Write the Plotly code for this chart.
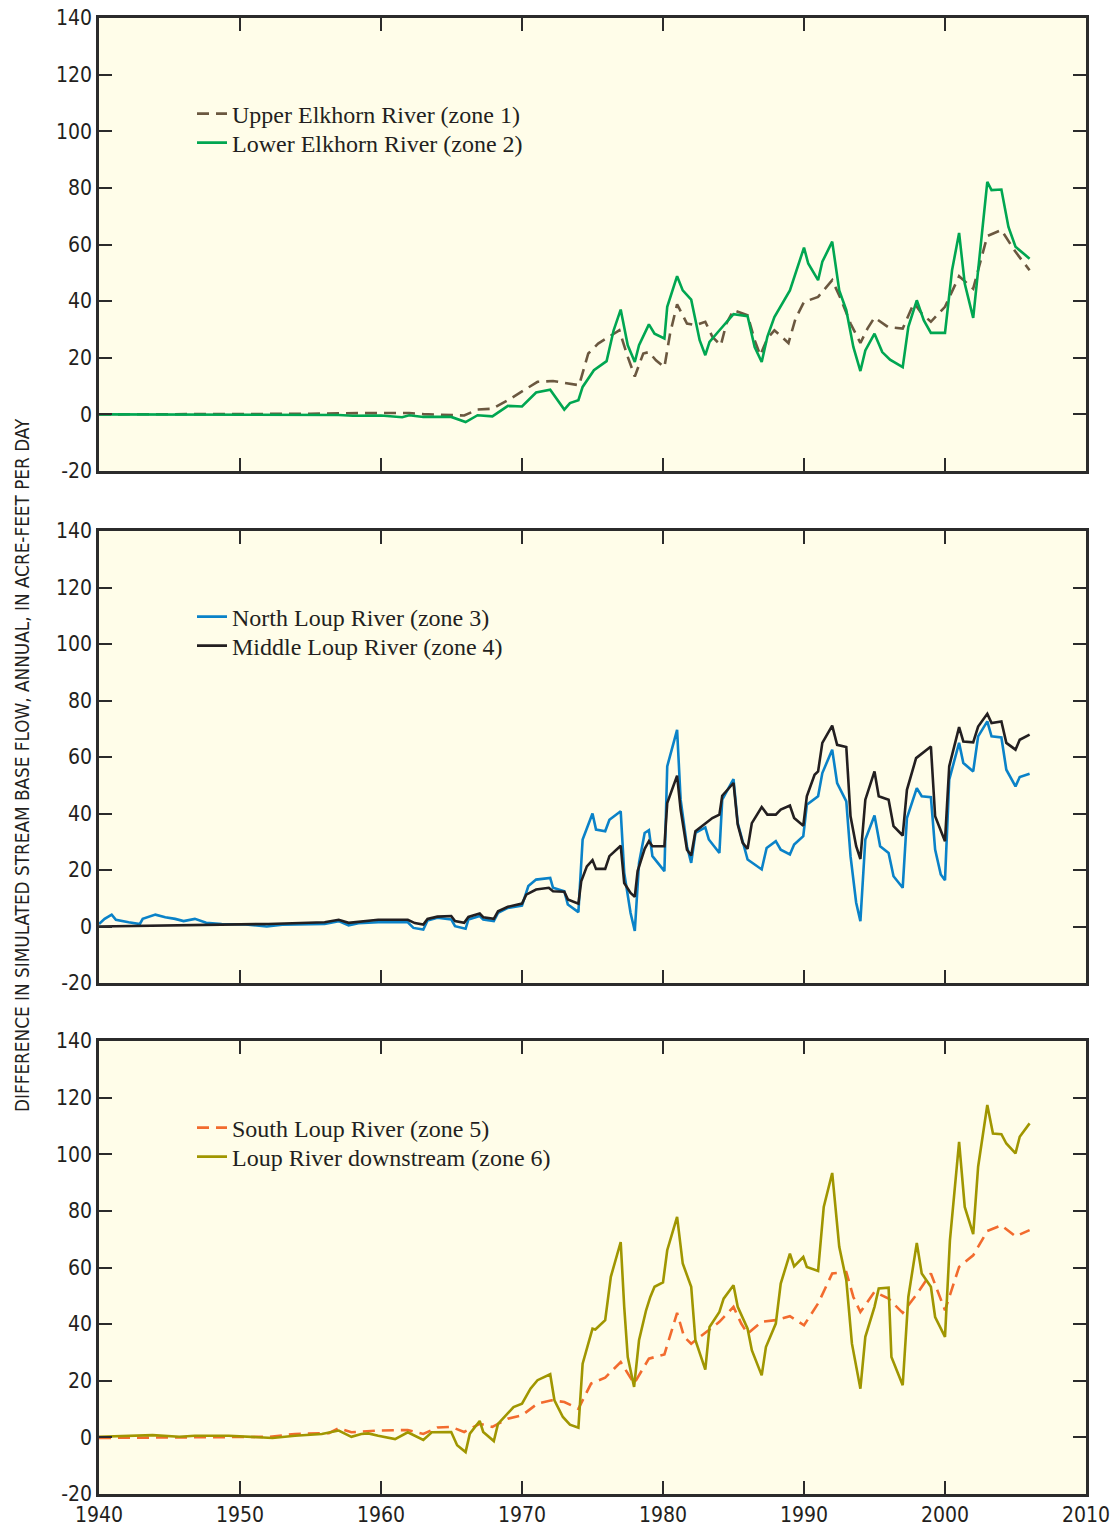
import plotly.graph_objects as go

# ---------------- DATA ----------------
# Panel 1
upper_elkhorn_year = [1940, 1945, 1950, 1955, 1957, 1960, 1962, 1963, 1964.2, 1965.9, 1966.85, 1967.9,
                      1969.0, 1970.2, 1971.1, 1972.2, 1974.05, 1974.7, 1975.4, 1976.9, 1977.5, 1978.0,
                      1978.6, 1979.0, 1979.5, 1980.1, 1980.5, 1981.0, 1981.7, 1982.3, 1983.0, 1983.5,
                      1984.1, 1984.5, 1985.0, 1986.0, 1986.5, 1986.9, 1987.4, 1987.9, 1988.9, 1989.4,
                      1990.0, 1991.0, 1992.0, 1992.6, 1993.3, 1994.0, 1994.5, 1995.0, 1995.95, 1997.0,
                      1997.8, 1998.35, 1999.0, 2000.0, 2001.0, 2002.0, 2003.0, 2004.0, 2005.0, 2006.0]
upper_elkhorn_flow = [0, 0, 0, 0.2, 0.4, 0.5, 0.5, 0.1, 0.0, -0.4, 1.7, 2.0,
                      5.0, 8.7, 11.5, 11.8, 10.3, 21.5, 25.0, 29.7, 20.3, 13.4,
                      21.5, 22.0, 19.1, 16.7, 28.5, 38.9, 32.1, 31.5, 32.7, 27.4,
                      24.4, 32.1, 36.8, 35.0, 26.2, 20.9, 26.8, 29.7, 25.2, 33.8,
                      39.7, 41.5, 47.4, 40.9, 32.1, 25.2, 30.3, 34.2, 30.9, 30.3,
                      39.4, 35.6, 32.7, 38.0, 48.8, 44.4, 63.0, 65.1, 57.4, 50.9]

lower_elkhorn_year = [1940, 1950, 1955, 1957, 1958, 1960, 1961.5, 1962, 1963, 1964.18, 1964.98, 1966.0,
                      1966.85, 1967.9, 1969.0, 1970.0, 1971.0, 1972.0, 1973.0, 1973.4, 1974.0, 1974.3,
                      1975.1, 1976.0, 1976.5, 1977.0, 1977.5, 1978.0, 1978.3, 1979.0, 1979.4, 1980.1,
                      1980.3, 1981.0, 1981.4, 1982.0, 1982.6, 1983.0, 1983.3, 1983.9, 1985.0, 1986.0,
                      1986.5, 1987.0, 1987.4, 1987.9, 1989.0, 1990.0, 1990.3, 1991.0, 1991.3, 1992.0,
                      1992.5, 1993.0, 1993.5, 1994.0, 1994.35, 1995.0, 1995.55, 1996.1, 1997.0, 1997.4,
                      1998.0, 1998.5, 1999.0, 2000.0, 2000.5, 2001.0, 2001.4, 2002.0, 2002.35, 2003.0,
                      2003.3, 2004.0, 2004.5, 2005.0, 2006.0]
lower_elkhorn_flow = [0, 0, 0, -0.2, -0.5, -0.4, -1.0, -0.3, -0.9, -0.9, -0.9, -2.7,
                      -0.3, -0.7, 3.0, 2.8, 7.7, 8.7, 1.7, 4.0, 5.0, 9.7,
                      15.6, 18.8, 29.7, 37.0, 24.4, 18.5, 24.4, 31.8, 28.5, 26.8,
                      38.0, 48.8, 43.8, 40.5, 26.2, 20.9, 25.6, 29.1, 35.4, 34.7,
                      23.8, 18.5, 27.4, 34.4, 43.8, 58.9, 53.3, 47.4, 53.9, 61.0,
                      43.8, 36.8, 23.8, 15.3, 22.6, 28.5, 22.0, 19.3, 16.7, 30.9,
                      40.3, 33.2, 28.8, 28.8, 50.9, 64.1, 46.2, 34.1, 50.9, 82.1,
                      79.2, 79.4, 66.2, 59.2, 55.0]

# Panel 2
north_loup_year = [1940, 1940.4, 1940.9, 1941.2, 1942.1, 1942.9, 1943.1, 1944.0, 1944.7, 1945.4, 1946.0,
                   1946.8, 1947.6, 1948.7, 1950.4, 1951.9, 1953.0, 1956.0, 1957.0, 1957.7, 1958.4,
                   1959.8, 1961.9, 1962.3, 1963.0, 1963.3, 1964.0, 1964.98, 1965.25, 1966.0, 1966.2,
                   1967.0, 1967.25, 1968.0, 1968.3, 1969.0, 1970.0, 1970.45, 1971.0, 1972.0, 1972.2,
                   1973.0, 1973.25, 1974.0, 1974.3, 1975.0, 1975.25, 1975.9, 1976.2, 1977.0, 1977.25,
                   1977.7, 1978.0, 1978.3, 1978.7, 1979.0, 1979.25, 1980.1, 1980.3, 1981.0, 1981.25,
                   1981.7, 1982.0, 1982.3, 1983.0, 1983.25, 1984.0, 1984.2, 1985.0, 1985.3, 1986.0,
                   1987.0, 1987.35, 1988.0, 1988.35, 1989.0, 1989.3, 1989.95, 1990.2, 1991.0, 1991.3,
                   1992.0, 1992.35, 1993.0, 1993.3, 1993.7, 1994.0, 1994.35, 1995.0, 1995.4, 1996.0,
                   1996.35, 1997.0, 1997.3, 1998.0, 1998.35, 1999.0, 1999.3, 1999.7, 2000.0, 2000.3,
                   2001.0, 2001.3, 2002.0, 2002.35, 2003.0, 2003.3, 2004.0, 2004.35, 2005.0, 2005.3,
                   2006.0]
north_loup_flow = [0.9, 2.7, 4.2, 2.4, 1.5, 0.9, 2.7, 4.2, 3.3, 2.7, 1.9,
                   2.7, 1.3, 0.9, 0.7, 0.0, 0.6, 0.9, 1.9, 0.4, 1.2,
                   1.5, 1.5, -0.5, -1.1, 2.1, 3.1, 2.5, 0.1, -0.8, 2.5,
                   3.7, 2.5, 1.9, 4.8, 6.6, 7.4, 14.3, 16.6, 17.2, 13.7,
                   12.5, 7.8, 5.1, 30.8, 40.0, 34.3, 33.7, 37.8, 40.8, 19.0,
                   4.8, -1.6, 22.5, 33.1, 34.1, 24.9, 19.6, 56.7, 69.6, 44.9,
                   28.4, 22.5, 33.1, 35.1, 30.8, 26.0, 44.9, 52.2, 36.6, 23.7,
                   20.2, 27.8, 30.2, 27.2, 25.5, 29.0, 32.0, 43.1, 46.1, 54.3,
                   62.6, 50.8, 44.3, 24.9, 8.4, 1.9, 30.8, 39.3, 28.4, 26.0,
                   17.8, 13.7, 38.4, 49.0, 46.1, 45.8, 27.2, 18.4, 16.4, 52.0,
                   65.0, 57.9, 54.9, 67.3, 72.6, 67.3, 66.9, 55.5, 49.6, 52.9,
                   54.1]

middle_loup_year = [1940, 1952.0, 1956.0, 1957.0, 1957.7, 1958.4, 1959.8, 1961.9, 1962.4, 1963.0, 1963.3,
                    1964.0, 1964.98, 1965.25, 1965.9, 1966.2, 1967.0, 1967.25, 1968.0, 1968.3, 1969.0,
                    1970.0, 1970.3, 1971.0, 1971.9, 1972.2, 1973.0, 1973.25, 1974.0, 1974.2, 1974.6,
                    1975.0, 1975.25, 1975.9, 1976.2, 1977.0, 1977.25, 1977.7, 1978.0, 1978.2, 1978.7,
                    1979.0, 1979.25, 1980.1, 1980.3, 1981.0, 1981.25, 1981.7, 1982.0, 1982.3, 1983.0,
                    1983.5, 1984.0, 1984.2, 1985.0, 1985.3, 1985.65, 1986.0, 1986.3, 1987.0, 1987.4,
                    1988.0, 1988.35, 1989.0, 1989.3, 1989.95, 1990.2, 1990.75, 1991.0, 1991.3, 1992.0,
                    1992.35, 1993.0, 1993.3, 1993.7, 1994.0, 1994.35, 1995.0, 1995.3, 1996.0, 1996.35,
                    1997.0, 1997.3, 1997.95, 1999.0, 1999.3, 2000.0, 2000.3, 2001.0, 2001.3, 2002.0,
                    2002.35, 2003.0, 2003.3, 2004.0, 2004.35, 2005.0, 2005.3, 2006.0]
middle_loup_flow = [0.0, 0.9, 1.5, 2.4, 1.3, 1.6, 2.4, 2.4, 1.2, 0.7, 2.7,
                    3.5, 3.7, 1.9, 1.3, 3.4, 4.6, 3.3, 2.7, 5.4, 7.0,
                    8.1, 11.3, 13.1, 13.7, 12.5, 12.3, 9.6, 8.1, 16.0, 21.3,
                    23.5, 20.4, 20.4, 24.9, 28.6, 15.4, 11.9, 10.5, 19.6, 27.5,
                    30.2, 28.4, 28.4, 43.7, 53.4, 41.4, 27.2, 25.1, 33.7, 36.6,
                    38.4, 39.6, 46.3, 50.8, 36.1, 29.6, 27.5, 36.6, 42.3, 39.6,
                    39.6, 41.4, 42.8, 38.4, 35.7, 46.1, 53.7, 54.9, 65.0, 71.1,
                    64.3, 63.5, 39.0, 28.4, 23.9, 44.9, 54.9, 46.1, 44.9, 35.5,
                    32.2, 48.4, 59.6, 63.7, 39.0, 30.2, 56.7, 70.6, 65.5, 65.2,
                    70.8, 75.3, 72.0, 72.6, 65.0, 62.6, 66.1, 67.9]

# Panel 3
south_loup_year = [1940, 1949.2, 1952.1, 1953.9, 1956.3, 1957.0, 1957.9, 1959.8, 1961.9, 1963.0, 1964.0,
                   1964.98, 1965.9, 1967.0, 1967.9, 1969.0, 1970.0, 1971.1, 1972.1, 1973.0, 1974.0,
                   1974.9, 1975.9, 1977.0, 1977.95, 1979.0, 1980.1, 1981.0, 1981.5, 1982.0, 1983.0,
                   1984.0, 1985.0, 1985.55, 1986.0, 1987.0, 1988.0, 1989.0, 1990.0, 1991.0, 1992.0,
                   1993.0, 1993.5, 1994.0, 1995.0, 1996.0, 1997.0, 1998.0, 1999.0, 2000.0, 2001.0,
                   2002.0, 2003.0, 2004.0, 2005.0, 2006.0]
south_loup_flow = [-0.2, 0.0, 0.2, 1.2, 1.5, 3.3, 1.8, 2.4, 2.6, 1.2, 3.5,
                   3.7, 1.9, 4.8, 3.7, 6.6, 7.8, 11.9, 13.1, 12.5, 10.1,
                   19.0, 21.1, 26.6, 19.0, 27.8, 29.3, 44.0, 35.5, 33.1, 36.9,
                   40.8, 46.1, 40.2, 36.6, 40.8, 41.4, 42.8, 39.6, 47.3, 57.9,
                   58.4, 49.6, 44.3, 51.4, 49.0, 44.0, 50.6, 57.9, 44.9, 60.2,
                   64.3, 72.9, 74.9, 71.0, 73.2]

loup_downstream_year = [1940, 1943.8, 1945.7, 1946.8, 1949.2, 1952.3, 1953.9, 1955.8, 1957.0, 1957.9, 1958.6,
                        1959.1, 1959.8, 1961.0, 1961.9, 1962.4, 1963.0, 1963.6, 1964.0, 1964.98, 1965.4,
                        1966.0, 1966.3, 1967.0, 1967.25, 1968.0, 1968.3, 1969.0, 1969.4, 1970.0, 1970.6,
                        1971.1, 1972.0, 1972.3, 1972.9, 1973.4, 1974.0, 1974.3, 1975.0, 1975.2, 1975.9,
                        1976.3, 1977.0, 1977.25, 1977.5, 1977.95, 1978.3, 1978.8, 1979.1, 1979.4, 1980.0,
                        1980.3, 1981.0, 1981.4, 1982.0, 1982.3, 1983.0, 1983.3, 1984.0, 1984.3, 1985.0,
                        1985.3, 1986.0, 1986.3, 1987.0, 1987.3, 1988.0, 1988.35, 1989.0, 1989.3, 1989.95,
                        1990.2, 1991.0, 1991.4, 1992.0, 1992.5, 1993.0, 1993.4, 1994.0, 1994.35, 1995.0,
                        1995.3, 1996.0, 1996.2, 1997.0, 1997.4, 1998.0, 1998.35, 1999.0, 1999.3, 2000.0,
                        2000.35, 2001.0, 2001.4, 2002.0, 2002.35, 2003.0, 2003.4, 2004.0, 2004.35, 2005.0,
                        2005.3, 2006.0]
loup_downstream_flow = [0.2, 0.8, 0.2, 0.6, 0.6, -0.2, 0.6, 1.2, 2.4, 0.2, 1.2,
                        1.4, 0.6, -0.6, 1.8, 0.6, -0.9, 1.8, 1.8, 1.9, -2.8,
                        -5.2, 1.3, 5.8, 1.9, -1.3, 4.8, 8.4, 10.7, 11.9, 17.2,
                        20.2, 22.3, 13.1, 7.2, 4.5, 3.4, 26.0, 38.4, 38.1, 41.4,
                        56.7, 69.0, 46.1, 28.4, 17.8, 34.3, 44.9, 49.6, 53.2, 54.7,
                        66.1, 77.9, 61.4, 53.2, 34.3, 23.9, 39.0, 44.3, 49.0, 53.7,
                        46.1, 38.4, 30.8, 21.9, 31.9, 40.2, 54.3, 64.9, 60.4, 63.7,
                        60.2, 58.8, 81.4, 93.4, 67.3, 55.5, 33.1, 17.2, 35.5, 46.1,
                        52.6, 52.9, 28.4, 18.4, 49.6, 68.7, 57.9, 53.2, 42.5, 35.5,
                        69.6, 104.4, 81.4, 71.8, 95.6, 117.4, 107.3, 107.1, 103.8, 100.3,
                        106.2, 110.9]

y_ticks = [-20, 0, 20, 40, 60, 80, 100, 120, 140]
x_ticks = [1940, 1950, 1960, 1970, 1980, 1990, 2000, 2010]
y_title = "DIFFERENCE IN SIMULATED STREAM BASE FLOW, ANNUAL, IN ACRE-FEET PER DAY"

for a, b in [(upper_elkhorn_year, upper_elkhorn_flow), (lower_elkhorn_year, lower_elkhorn_flow),
             (north_loup_year, north_loup_flow), (middle_loup_year, middle_loup_flow),
             (south_loup_year, south_loup_flow), (loup_downstream_year, loup_downstream_flow)]:
    assert len(a) == len(b), (len(a), len(b))

# ---------------- FIGURE ----------------
W, H = 1112, 1529
ML, MR, MT, MB = 99, 26, 18, 35
plot_h = H - MT - MB


def dom(top_px, bot_px):
    return [(H - MB - bot_px) / plot_h, (H - MB - top_px) / plot_h]


def py(px):
    return (H - MB - px) / plot_h


def pxx(px):
    return (px - ML) / (W - ML - MR)


BG = "#FFFDE9"
AX = "#2b2b2b"
SANS = "Liberation Sans Narrow, DejaVu Sans Condensed, Arial Narrow, sans-serif"
TICKFONT = dict(family=SANS, size=21, color="#231F20")
LEGFONT = dict(family="Liberation Serif, Times New Roman, serif", size=24, color="#231F20")

fig = go.Figure()

# (x, y, name, colour, dash, panel, legend id, legend row centre in px)
series = [
    (upper_elkhorn_year, upper_elkhorn_flow, "Upper Elkhorn River (zone 1)", "#6B5840", "12px,7px", 1, "legend", 114),
    (lower_elkhorn_year, lower_elkhorn_flow, "Lower Elkhorn River (zone 2)", "#00A651", "solid", 1, "legend2", 143),
    (north_loup_year, north_loup_flow, "North Loup River (zone 3)", "#0A82C8", "solid", 2, "legend3", 617),
    (middle_loup_year, middle_loup_flow, "Middle Loup River (zone 4)", "#231F20", "solid", 2, "legend4", 646),
    (south_loup_year, south_loup_flow, "South Loup River (zone 5)", "#F26B2E", "12px,7px", 3, "legend5", 1128),
    (loup_downstream_year, loup_downstream_flow, "Loup River downstream (zone 6)", "#A09600", "solid", 3, "legend6", 1157),
]

layout = dict(
    width=W, height=H,
    margin=dict(l=ML, r=MR, t=MT, b=MB, autoexpand=False),
    paper_bgcolor="white", plot_bgcolor=BG,
    showlegend=True,
)

for xs, ys, name, color, dash, panel, leg, row_px in series:
    suffix = "" if panel == 1 else str(panel)
    fig.add_trace(go.Scatter(
        x=xs, y=ys, mode="lines", name=name,
        line=dict(color=color, width=2.6, dash=dash),
        xaxis="x" + suffix, yaxis="y" + suffix, legend=leg,
    ))
    layout[leg] = dict(bgcolor="rgba(0,0,0,0)", borderwidth=0, font=LEGFONT,
                       xanchor="left", yanchor="middle", itemwidth=30,
                       x=pxx(192), y=py(row_px))

panels = [(18, 471), (531, 983), (1041, 1494)]
for i, (top, bot) in enumerate(panels, start=1):
    s = "" if i == 1 else str(i)
    layout["xaxis" + s] = dict(
        domain=[0, 1], anchor="y" + s, range=[1940, 2010], automargin=False,
        tickmode="array", tickvals=x_ticks, ticktext=[str(v) for v in x_ticks],
        showticklabels=(i == 3), ticks="inside", ticklen=13, tickwidth=1.5, tickcolor=AX,
        showline=True, linecolor=AX, linewidth=2.5, mirror="ticks",
        showgrid=False, zeroline=False, tickfont=TICKFONT,
    )
    layout["yaxis" + s] = dict(
        domain=dom(top, bot), anchor="x" + s, range=[-20, 140], automargin=False,
        tickmode="array", tickvals=y_ticks, ticktext=[str(v) for v in y_ticks],
        ticks="inside", ticklen=13, tickwidth=1.5, tickcolor=AX,
        showline=True, linecolor=AX, linewidth=2.5, mirror="ticks",
        showgrid=False, zeroline=False, tickfont=TICKFONT,
    )
    if i > 1:
        layout["xaxis" + s]["matches"] = "x"

layout["annotations"] = [dict(
    text=y_title, xref="paper", yref="paper", x=pxx(22), y=py(765),
    showarrow=False, textangle=-90, xanchor="center", yanchor="middle",
    font=dict(family=SANS, size=18.8, color="#231F20"),
)]

fig.update_layout(**layout)
fig.write_html("out.html")
